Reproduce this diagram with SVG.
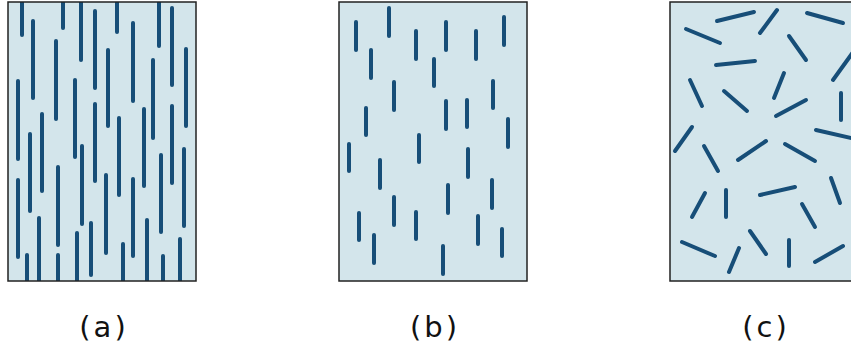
<svg xmlns="http://www.w3.org/2000/svg" width="851" height="354" viewBox="0 0 851 354">
<style>
.bg{fill:#d3e5eb}
.frame{fill:none;stroke:#222;stroke-width:1.5}
.f line{stroke:#174e78;stroke-width:4;stroke-linecap:round}
.lbl{font-family:"DejaVu Sans",sans-serif;font-size:29px;fill:#111;text-anchor:middle;letter-spacing:3px}
</style>
<defs>
<clipPath id="ca"><rect x="8" y="2" width="188" height="279"/></clipPath>
<clipPath id="cb"><rect x="339" y="2" width="188" height="279"/></clipPath>
<clipPath id="cc"><rect x="670" y="2" width="190" height="279"/></clipPath>
</defs>
<g id="panel-a">
<rect class="bg" x="8" y="2" width="188" height="279"/>
<g class="f" clip-path="url(#ca)">
<line x1="22" y1="-5" x2="22" y2="35"/>
<line x1="33" y1="21" x2="33" y2="98"/>
<line x1="63" y1="-5" x2="63" y2="28"/>
<line x1="81" y1="-5" x2="81" y2="60"/>
<line x1="95" y1="11" x2="95" y2="88"/>
<line x1="56" y1="41" x2="56" y2="119"/>
<line x1="18" y1="81" x2="18" y2="159"/>
<line x1="75" y1="80" x2="75" y2="157"/>
<line x1="42" y1="114" x2="42" y2="191"/>
<line x1="30" y1="134" x2="30" y2="211"/>
<line x1="95" y1="104" x2="95" y2="181"/>
<line x1="82" y1="146" x2="82" y2="224"/>
<line x1="18" y1="180" x2="18" y2="257"/>
<line x1="58" y1="167" x2="58" y2="245"/>
<line x1="27" y1="255" x2="27" y2="290"/>
<line x1="39" y1="218" x2="39" y2="290"/>
<line x1="58" y1="255" x2="58" y2="290"/>
<line x1="77" y1="233" x2="77" y2="290"/>
<line x1="91" y1="223" x2="91" y2="275"/>
<line x1="117" y1="-5" x2="117" y2="32"/>
<line x1="133" y1="23" x2="133" y2="101"/>
<line x1="108" y1="50" x2="108" y2="126"/>
<line x1="159" y1="-5" x2="159" y2="46"/>
<line x1="172" y1="8" x2="172" y2="85"/>
<line x1="153" y1="60" x2="153" y2="138"/>
<line x1="186" y1="49" x2="186" y2="126"/>
<line x1="119" y1="118" x2="119" y2="195"/>
<line x1="144" y1="109" x2="144" y2="186"/>
<line x1="172" y1="106" x2="172" y2="183"/>
<line x1="106" y1="175" x2="106" y2="253"/>
<line x1="133" y1="179" x2="133" y2="256"/>
<line x1="161" y1="155" x2="161" y2="232"/>
<line x1="184" y1="149" x2="184" y2="226"/>
<line x1="123" y1="244" x2="123" y2="290"/>
<line x1="147" y1="220" x2="147" y2="290"/>
<line x1="163" y1="256" x2="163" y2="290"/>
<line x1="180" y1="239" x2="180" y2="290"/>
</g>
<rect class="frame" x="8" y="2" width="188" height="279"/>
</g>
<g id="panel-b">
<rect class="bg" x="339" y="2" width="188" height="279"/>
<g class="f" clip-path="url(#cb)">
<line x1="356" y1="22" x2="356" y2="50"/>
<line x1="389" y1="8" x2="389" y2="36"/>
<line x1="371" y1="50" x2="371" y2="78"/>
<line x1="416" y1="31" x2="416" y2="59"/>
<line x1="434" y1="59" x2="434" y2="86"/>
<line x1="394" y1="82" x2="394" y2="110"/>
<line x1="366" y1="108" x2="366" y2="135"/>
<line x1="349" y1="144" x2="349" y2="171"/>
<line x1="419" y1="135" x2="419" y2="162"/>
<line x1="380" y1="160" x2="380" y2="188"/>
<line x1="394" y1="197" x2="394" y2="225"/>
<line x1="359" y1="213" x2="359" y2="240"/>
<line x1="416" y1="212" x2="416" y2="239"/>
<line x1="374" y1="235" x2="374" y2="263"/>
<line x1="446" y1="22" x2="446" y2="50"/>
<line x1="476" y1="31" x2="476" y2="59"/>
<line x1="504" y1="17" x2="504" y2="45"/>
<line x1="493" y1="81" x2="493" y2="108"/>
<line x1="446" y1="101" x2="446" y2="129"/>
<line x1="467" y1="100" x2="467" y2="127"/>
<line x1="508" y1="119" x2="508" y2="147"/>
<line x1="468" y1="149" x2="468" y2="177"/>
<line x1="448" y1="185" x2="448" y2="213"/>
<line x1="492" y1="180" x2="492" y2="208"/>
<line x1="478" y1="216" x2="478" y2="244"/>
<line x1="502" y1="229" x2="502" y2="256"/>
<line x1="443" y1="246" x2="443" y2="274"/>
</g>
<rect class="frame" x="339" y="2" width="188" height="279"/>
</g>
<g id="panel-c">
<rect class="bg" x="670" y="2" width="190" height="279"/>
<g class="f" clip-path="url(#cc)">
<line x1="717" y1="21" x2="754" y2="12"/>
<line x1="686" y1="29" x2="720" y2="43"/>
<line x1="760" y1="33" x2="777" y2="10"/>
<line x1="716" y1="65" x2="755" y2="61"/>
<line x1="690" y1="80" x2="702" y2="106"/>
<line x1="724" y1="91" x2="747" y2="111"/>
<line x1="692" y1="127" x2="675" y2="151"/>
<line x1="704" y1="146" x2="718" y2="171"/>
<line x1="738" y1="160" x2="766" y2="141"/>
<line x1="807" y1="13" x2="843" y2="23"/>
<line x1="789" y1="36" x2="806" y2="60"/>
<line x1="856" y1="48" x2="833" y2="80"/>
<line x1="784" y1="73" x2="774" y2="98"/>
<line x1="841" y1="93" x2="841" y2="120"/>
<line x1="806" y1="100" x2="776" y2="116"/>
<line x1="816" y1="130" x2="860" y2="140"/>
<line x1="785" y1="144" x2="815" y2="161"/>
<line x1="831" y1="178" x2="840" y2="203"/>
<line x1="760" y1="195" x2="795" y2="187"/>
<line x1="802" y1="204" x2="815" y2="227"/>
<line x1="750" y1="231" x2="766" y2="254"/>
<line x1="789" y1="240" x2="789" y2="266"/>
<line x1="815" y1="262" x2="843" y2="246"/>
<line x1="705" y1="193" x2="692" y2="217"/>
<line x1="726" y1="190" x2="726" y2="217"/>
<line x1="682" y1="242" x2="715" y2="256"/>
<line x1="739" y1="248" x2="729" y2="272"/>
</g>
<rect class="frame" x="670" y="2" width="190" height="279"/>
</g>
<g id="labels">
<text class="lbl" x="104" y="337">(a)</text>
<text class="lbl" x="435" y="337">(b)</text>
<text class="lbl" x="766" y="337">(c)</text>
</g>
</svg>
